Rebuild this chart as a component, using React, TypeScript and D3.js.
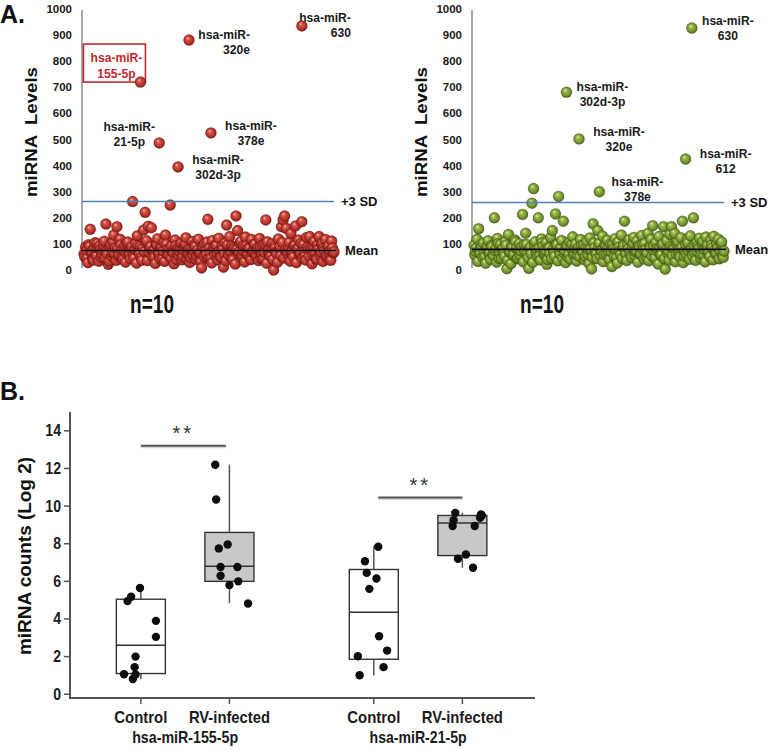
import React from "react";
import * as d3 from "d3";

const FONT = "'Liberation Sans', Arial, Helvetica, sans-serif";

// ---------- Panel A data ----------
const levelTicks = [0, 100, 200, 300, 400, 500, 600, 700, 800, 900, 1000];

// front row of miRNAs (left panel)
const leftLevels = [
  62, 88, 45, 97, 156, 71, 38, 104, 55, 83,
  92, 48, 76, 110, 176, 60, 35, 99, 67, 134,
  85, 166, 52, 118, 74, 41, 95, 63, 107, 58,
  80, 262, 46, 101, 131, 69, 90, 37, 153, 221,
  112, 168, 84, 162, 73, 49, 98, 120, 64, 87,
  43, 105, 134, 78, 56, 249, 93, 66, 115, 40,
  86, 71, 102, 52, 95, 124, 60, 82, 47, 109,
  75, 91, 54, 118, 68, 8, 88, 100, 59, 194,
  83, 44, 113, 72, 96, 61, 122, 50, 89, 11,
  104, 172, 65, 128, 92, 39, 81, 207, 151, 70,
  110, 56, 94, 126, 63, 85, 48, 117, 74, 99,
  58, 87, 121, 45, 96, 68, 192, 108, 79, 53,
  101, 0, 84, 62, 119, 90, 166, 192, 207, 160,
  73, 106, 140, 57, 93, 169, 81, 115, 66, 185,
  98, 52, 125, 77, 128, 88, 61, 109, 42, 95,
  128, 70, 103, 84, 117, 56, 92, 74, 111, 65,
];
// second row of miRNAs (left panel), interleaved between the first
const leftLevels2 = [
  50, 73, 28, 91, 66, 40, 85, 57, 102, 34,
  78, 61, 95, 45, 70, 22, 88, 53, 109, 64,
  37, 82, 59, 96, 48, 74, 30, 100, 67, 43,
  89, 55, 79, 26, 93, 62, 47, 84, 71, 105,
  36, 68, 90, 51, 77, 25, 97, 60, 42, 86,
  72, 33, 99, 58, 81, 46, 69, 24, 92, 63,
  54, 87, 39, 75, 101, 44, 65, 29, 83, 56,
  98, 41, 76, 61, 32, 90, 52, 71, 107, 45,
  66, 27, 85, 57, 94, 38, 73, 49, 80, 62,
  35, 96, 55, 70, 43, 88, 23, 79, 64, 103,
  47, 74, 31, 92, 58, 83, 40, 67, 97, 52,
  78, 36, 89, 60, 44, 99, 26, 72, 57, 85,
  41, 93, 68, 30, 81, 54, 106, 46, 75, 63,
  88, 34, 71, 50, 95, 28, 82, 59, 102, 45,
  69, 38, 86, 53, 77, 24, 91, 65, 42, 80,
  57, 100, 33, 74, 48, 89, 62, 37, 84, 70,
];

const rightLevels = [
  95, 72, 118, 158, 64, 88, 103, 51, 80, 112,
  67, 93, 58, 200, 85, 121, 44, 98, 76, 61,
  109, 5, 136, 70, 90, 55, 115, 82, 47, 101,
  73, 213, 96, 141, 62, 6, 87, 256, 312, 108,
  78, 200, 53, 119, 91, 66, 104, 40, 84, 125,
  151, 69, 215, 97, 282, 59, 113, 187, 74, 94,
  48, 106, 83, 127, 65, 100, 57, 89, 117, 71,
  96, 52, 110, 79, 123, 4, 177, 86, 63, 151,
  102, 75, 130, 58, 92, 114, 68, 99, 13, 81,
  120, 46, 107, 73, 134, 88, 187, 62, 97, 116,
  54, 84, 125, 70, 111, 93, 60, 132, 77, 101,
  49, 140, 90, 118, 170, 66, 105, 82, 128, 57,
  96, 166, 3, 113, 74, 137, 166, 87, 140, 61,
  108, 79, 124, 187, 52, 99, 115, 71, 131, 86,
  200, 64, 103, 92, 122, 58, 110, 78, 126, 95,
  69, 114, 84, 129, 61, 100, 118, 73, 107, 48,
];
const rightLevels2 = [
  58, 84, 33, 77, 96, 49, 70, 26, 92, 63,
  41, 88, 55, 74, 30, 101, 66, 45, 83, 52,
  95, 37, 69, 24, 86, 60, 108, 43, 78, 56,
  90, 31, 72, 98, 47, 81, 62, 29, 94, 67,
  50, 85, 38, 104, 59, 75, 22, 89, 64, 44,
  79, 53, 97, 35, 71, 87, 46, 65, 28, 91,
  61, 42, 100, 57, 82, 34, 76, 51, 93, 68,
  39, 86, 60, 25, 80, 48, 103, 66, 43, 88,
  55, 73, 32, 95, 62, 84, 40, 70, 99, 50,
  77, 27, 87, 58, 45, 92, 64, 36, 81, 69,
  48, 102, 56, 74, 30, 89, 61, 97, 42, 78,
  65, 35, 84, 53, 93, 47, 72, 23, 86, 59,
  99, 44, 76, 63, 38, 90, 55, 81, 32, 96,
  67, 49, 85, 28, 74, 60, 105, 41, 79, 54,
  92, 37, 70, 83, 46, 98, 58, 31, 87, 64,
  51, 94, 39, 77, 66, 85, 43, 101, 56, 72,
];

const leftOutlierNames = ["hsa-miR-630", "hsa-miR-320e", "hsa-miR-155-5p", "hsa-miR-21-5p", "hsa-miR-378e", "hsa-miR-302d-3p"];
const leftOutlierOrder = [139, 67, 36, 48, 81, 60];
const leftOutlierLevels = [935, 881, 720, 487, 525, 395];
const leftMean = 75;
const leftSD3 = 262;

const rightOutlierNames = ["hsa-miR-630", "hsa-miR-302d-3p", "hsa-miR-320e", "hsa-miR-612", "hsa-miR-378e"];
const rightOutlierOrder = [139, 59, 67, 135, 80];
const rightOutlierLevels = [927, 681, 502, 425, 300];
const rightMean = 79;
const rightSD3 = 259;

const sampleLabel = "n=10";

// label placement (layout only)
const leftLabelLayout = [
  { dx: 49, dy: -8, anchor: "end", boxed: false },
  { dx: 61, dy: -6, anchor: "end", boxed: false },
  { dx: -24, dy: -25, anchor: "middle", boxed: true },
  { dx: -30, dy: -16, anchor: "middle", boxed: false },
  { dx: 40, dy: -7, anchor: "middle", boxed: false },
  { dx: 40, dy: -7, anchor: "middle", boxed: false },
];
const rightLabelLayout = [
  { dx: 36, dy: -8, anchor: "middle", boxed: false },
  { dx: 36, dy: -6, anchor: "middle", boxed: false },
  { dx: 40, dy: -7, anchor: "middle", boxed: false },
  { dx: 40, dy: -6, anchor: "middle", boxed: false },
  { dx: 38, dy: -10, anchor: "middle", boxed: false },
];

// ---------- Panel B data ----------
const countTicks = [0, 2, 4, 6, 8, 10, 12, 14];
const groupNames = ["hsa-miR-155-5p", "hsa-miR-21-5p"];
const conditionNames = ["Control", "RV-infected", "Control", "RV-infected"];
const boxSlots = [0.8, 1.8, 3.43, 4.43];
const boxFills = ["#ffffff", "#c8c8c8", "#ffffff", "#c8c8c8"];
const boxQ1 = [1.1, 6.0, 1.86, 7.37];
const boxMedian = [2.6, 6.8, 4.36, 9.1];
const boxQ3 = [5.05, 8.6, 6.63, 9.5];
const whiskerLow = [0.8, 4.84, 1.0, 6.72];
const whiskerHigh = [5.65, 12.2, 7.87, 9.64];

const ctrl155 = [5.18, 4.95, 5.65, 3.9, 3.05, 2.0, 1.44, 1.06, 1.05, 0.81];
const ctrl155Jitter = [-0.11, -0.15, -0.01, 0.17, 0.17, -0.06, -0.07, -0.19, -0.06, -0.09];
const rv155 = [12.2, 10.35, 7.75, 7.96, 6.76, 6.76, 6.3, 6.0, 5.8, 4.82];
const rv155Jitter = [-0.16, -0.15, -0.12, -0.02, -0.1, 0.09, -0.1, 0.1, 0.0, 0.21];
const ctrl21 = [7.84, 7.07, 6.45, 6.15, 5.6, 3.08, 2.32, 2.02, 1.44, 1.01];
const ctrl21Jitter = [0.05, -0.1, -0.08, 0.03, -0.05, 0.06, 0.15, -0.18, 0.11, -0.16];
const rv21 = [9.64, 9.25, 8.94, 9.5, 9.38, 8.94, 7.43, 7.2, 6.72, 9.55];
const rv21Jitter = [-0.08, -0.1, -0.11, 0.22, 0.2, 0.14, 0.04, -0.05, 0.12, 0.21];

const pointSets = [ctrl155, rv155, ctrl21, rv21];
const jitterSets = [ctrl155Jitter, rv155Jitter, ctrl21Jitter, rv21Jitter];

const sigFrom = [0.8, 3.48];
const sigTo = [1.76, 4.43];
const sigLevel = [13.2, 10.45];
const sigText = "**";

// ---------- helpers ----------
function Txt(props: any) {
  const { x, y, size, children, anchor = "start", fill = "#111", weight = "bold", sx = 1, rotate = 0, len, spacing } = props;
  let tr = `translate(${x},${y})`;
  if (rotate) tr += ` rotate(${rotate})`;
  if (sx !== 1) tr += ` scale(${sx},1)`;
  return (
    <text
      transform={tr}
      fontFamily={FONT}
      fontSize={size}
      fontWeight={weight}
      textAnchor={anchor}
      fill={fill}
      textLength={len}
      lengthAdjust={len ? "spacingAndGlyphs" : undefined}
      letterSpacing={spacing}
      style={{ whiteSpace: "pre" }}
    >
      {children}
    </text>
  );
}

function ScatterPanel(props: any) {
  const { offset, levels, levels2, names, order, outLevels, layout, mean, sd3, grad, rim } = props;
  const x = d3.scaleLinear().domain([0, levels.length - 0.5]).range([84 + offset, 334 + offset]);
  const y = d3.scaleLinear().domain([0, 1000]).range([270, 9]);
  const axisX = 82 + offset;
  const R = 5.5;
  const pts: { pos: number; v: number }[] = [];
  levels.forEach((v: number, i: number) => {
    pts.push({ pos: i, v });
    pts.push({ pos: i + 0.5, v: levels2[i] });
  });
  return (
    <g>
      <line x1={axisX} x2={axisX} y1={10} y2={268} stroke="#a8a8a8" strokeWidth={2} />
      {levelTicks.map((t) => (
        <Txt key={t} x={72 + offset} y={y(t) + 4} size={11.5} anchor="end" fill="#1a1a1a">
          {String(t)}
        </Txt>
      ))}
      <Txt x={37 + offset} y={132} size={16} anchor="middle" rotate={-90} len={130}>
        {"miRNA  Levels"}
      </Txt>
      {pts.map((p, i) => (
        <circle key={i} cx={x(p.pos)} cy={y(p.v)} r={R} fill={`url(#${grad})`} stroke={rim} strokeOpacity={0.35} strokeWidth={0.6} />
      ))}
      <line x1={axisX} x2={334 + offset} y1={y(sd3)} y2={y(sd3)} stroke="#4f81bd" strokeWidth={1.5} />
      <line x1={axisX} x2={336 + offset} y1={y(mean)} y2={y(mean)} stroke="#000" strokeWidth={1.6} />
      <Txt x={341 + offset} y={y(sd3) + 4.5} size={13}>{"+3 SD"}</Txt>
      <Txt x={345 + offset} y={y(mean) + 4.5} size={13}>{"Mean"}</Txt>
      {names.map((nm: string, k: number) => {
        const cx = x(order[k]);
        const cy = y(outLevels[k]);
        const L = layout[k];
        const tx = cx + L.dx;
        const ty = cy + L.dy;
        const color = L.boxed ? "#c0282d" : "#1a1a1a";
        return (
          <g key={nm}>
            {L.boxed && (
              <rect x={cx - 57} y={cy - 38} width={62} height={38} fill="#fff" stroke="#c0282d" strokeWidth={1.6} />
            )}
            <Txt x={tx} y={ty + 4.5} size={13} anchor={L.anchor} fill={color} sx={0.93}>
              {nm.slice(0, 8)}
            </Txt>
            <Txt x={tx} y={ty + 4.5 + (L.boxed ? 16 : 15)} size={13} anchor={L.anchor} fill={color} sx={0.93}>
              {nm.slice(8)}
            </Txt>
            <circle cx={cx} cy={cy} r={R} fill={`url(#${grad})`} stroke={rim} strokeOpacity={0.35} strokeWidth={0.6} />
          </g>
        );
      })}
      <Txt x={152 + offset} y={313} size={26} anchor="middle" len={44}>
        {sampleLabel}
      </Txt>
    </g>
  );
}

function BoxPanel() {
  const x = d3.scaleLinear().domain([0, 5.25]).range([70, 535]);
  const y = d3.scaleLinear().domain([-0.2, 15]).range([698, 412]);
  const hw = 24.5;
  const axisColor = "#555";
  const groupCenters = [
    (x(boxSlots[0]) + x(boxSlots[1])) / 2,
    (x(boxSlots[2]) + x(boxSlots[3])) / 2,
  ];
  const condLens = [53, 81, 53, 81];
  const groupLens = [106, 97];
  return (
    <g>
      <line x1={70} x2={70} y1={y(15)} y2={698} stroke={axisColor} strokeWidth={2} />
      <line x1={69} x2={535} y1={698} y2={698} stroke={axisColor} strokeWidth={2} />
      {countTicks.map((t) => (
        <g key={t}>
          <line x1={64} x2={70} y1={y(t)} y2={y(t)} stroke={axisColor} strokeWidth={1.5} />
          <Txt x={61} y={y(t) + 5.5} size={16} anchor="end" sx={0.88} fill="#1a1a1a">
            {String(t)}
          </Txt>
        </g>
      ))}
      <Txt x={31} y={556} size={18} anchor="middle" rotate={-90} len={198}>
        {"miRNA counts (Log 2)"}
      </Txt>
      {boxSlots.map((s, i) => {
        const cx = x(s);
        return (
          <g key={i}>
            <line x1={cx} x2={cx} y1={698} y2={704} stroke={axisColor} strokeWidth={1.5} />
            <Txt x={cx} y={723} size={16.5} anchor="middle" len={condLens[i]} fill="#1a1a1a">
              {conditionNames[i]}
            </Txt>
            <line x1={cx} x2={cx} y1={y(boxQ3[i])} y2={y(whiskerHigh[i])} stroke="#555" strokeWidth={1.5} />
            <line x1={cx} x2={cx} y1={y(boxQ1[i])} y2={y(whiskerLow[i])} stroke="#555" strokeWidth={1.5} />
            <rect
              x={cx - hw}
              y={y(boxQ3[i])}
              width={hw * 2}
              height={y(boxQ1[i]) - y(boxQ3[i])}
              fill={boxFills[i]}
              stroke="#333"
              strokeWidth={1.4}
            />
            <line x1={cx - hw} x2={cx + hw} y1={y(boxMedian[i])} y2={y(boxMedian[i])} stroke="#333" strokeWidth={1.4} />
            {pointSets[i].map((v, j) => (
              <circle key={j} cx={x(s + jitterSets[i][j])} cy={y(v)} r={4.2} fill="#0d0d0d" />
            ))}
          </g>
        );
      })}
      {groupNames.map((g, i) => (
        <Txt key={g} x={groupCenters[i]} y={743} size={16.5} anchor="middle" len={groupLens[i]} fill="#1a1a1a">
          {g}
        </Txt>
      ))}
      {sigFrom.map((f, i) => {
        const x1 = x(f);
        const x2 = x(sigTo[i]);
        const yy = y(sigLevel[i]);
        return (
          <g key={i}>
            <line x1={x1} x2={x2} y1={yy + 1.5} y2={yy + 1.5} stroke="#bbb" strokeWidth={2} opacity={0.6} />
            <line x1={x1} x2={x2} y1={yy} y2={yy} stroke="#555" strokeWidth={2} />
            <Txt x={(x1 + x2) / 2} y={yy - 5.5} size={20} anchor="middle" weight="normal" fill="#333" spacing={3}>
              {sigText}
            </Txt>
          </g>
        );
      })}
    </g>
  );
}

export default function App() {
  return (
    <svg
      width={770}
      height={750}
      viewBox="0 0 770 750"
      style={{ position: "absolute", left: 0, top: 0, display: "block", background: "#fff" }}
    >
      <defs>
        <radialGradient id="redBall" cx="0.5" cy="0.5" r="0.5" fx="0.36" fy="0.3">
          <stop offset="0" stopColor="#f6c3b6" />
          <stop offset="0.3" stopColor="#d6564a" />
          <stop offset="0.75" stopColor="#b3322a" />
          <stop offset="1" stopColor="#7a1a14" />
        </radialGradient>
        <radialGradient id="greenBall" cx="0.5" cy="0.5" r="0.5" fx="0.36" fy="0.3">
          <stop offset="0" stopColor="#e2efb0" />
          <stop offset="0.3" stopColor="#9dbb4a" />
          <stop offset="0.75" stopColor="#71902e" />
          <stop offset="1" stopColor="#48601a" />
        </radialGradient>
      </defs>
      <rect x={0} y={0} width={770} height={750} fill="#fff" />
      <Txt x={0} y={23} size={25}>{"A."}</Txt>
      <ScatterPanel
        offset={0}
        levels={leftLevels}
        levels2={leftLevels2}
        names={leftOutlierNames}
        order={leftOutlierOrder}
        outLevels={leftOutlierLevels}
        layout={leftLabelLayout}
        mean={leftMean}
        sd3={leftSD3}
        grad="redBall"
        rim="#5a0f0a"
      />
      <ScatterPanel
        offset={390}
        levels={rightLevels}
        levels2={rightLevels2}
        names={rightOutlierNames}
        order={rightOutlierOrder}
        outLevels={rightOutlierLevels}
        layout={rightLabelLayout}
        mean={rightMean}
        sd3={rightSD3}
        grad="greenBall"
        rim="#34470f"
      />
      <Txt x={0} y={400} size={25}>{"B."}</Txt>
      <BoxPanel />
    </svg>
  );
}
